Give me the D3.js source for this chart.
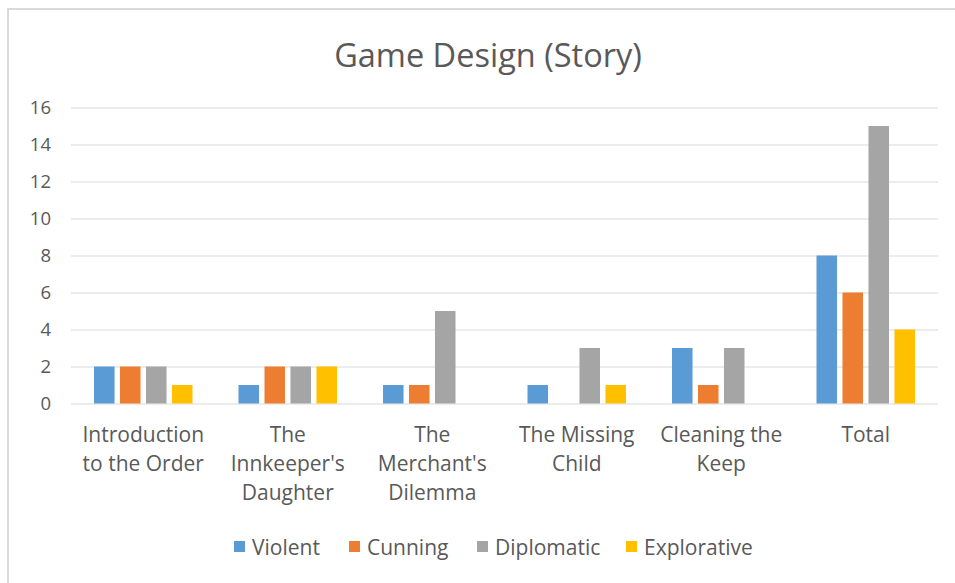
<!DOCTYPE html>
<html>
<head>
<meta charset="utf-8">
<script src="https://cdn.jsdelivr.net/npm/d3@7"></script>
<style>
    body { margin: 0; background: #ffffff; }
    text { font-family: "Open Sans", sans-serif; fill: #595959; }
</style>
</head>
<body>
<svg id="svgCanvas" width="955" height="583"></svg>
<script>
var categories = ["Introduction\nto the Order", "The\nInnkeeper's\nDaughter", "The\nMerchant's\nDilemma", "The Missing\nChild", "Cleaning the\nKeep", "Total"];
var seriesNames = ["Violent", "Cunning", "Diplomatic", "Explorative"];
var violent     = [2, 1, 1, 1, 3, 8];
var cunning     = [2, 2, 1, 0, 1, 6];
var diplomatic  = [2, 2, 5, 3, 3, 15];
var explorative = [1, 2, 0, 1, 0, 4];
var yTicks = [0, 2, 4, 6, 8, 10, 12, 14, 16];
var colors = ["#5b9bd5", "#ed7d31", "#a5a5a5", "#ffc000"];

var values = [violent, cunning, diplomatic, explorative];

var canvas = d3.select("#svgCanvas");

// chart border
canvas.append("rect")
        .attr("x", 8)
        .attr("y", 9)
        .attr("width", 1000)
        .attr("height", 1000)
        .attr("fill", "none")
        .attr("stroke", "#d9d9d9")
        .attr("stroke-width", 2);

var plotLeft = 71, plotRight = 938, plotTop = 107.5, plotBottom = 403.5;

var x = d3.scaleBand()
            .domain(categories)
            .range([plotLeft, plotRight]);

var x1 = d3.scaleBand()
            .domain(seriesNames)
            .range([-49.25, 49.25])
            .paddingInner(0.21);

var y = d3.scaleLinear()
            .domain([0, 16])
            .range([plotBottom, plotTop]);

// title
canvas.append("text")
        .attr("x", 488)
        .attr("y", 54)
        .attr("text-anchor", "middle")
        .attr("dominant-baseline", "central")
        .style("font-size", "32.5px")
        .text("Game Design (Story)");

// gridlines + y labels
var yAxis = d3.axisLeft(y).tickValues(yTicks).tickSize(-(plotRight - plotLeft)).tickPadding(20);
var gy = canvas.append("g")
        .attr("transform", "translate(" + plotLeft + ",0)")
        .call(yAxis);
gy.select(".domain").remove();
gy.selectAll(".tick line").attr("stroke", "#d9d9d9").attr("stroke-width", 1);
gy.selectAll(".tick text")
        .attr("fill", "#595959")
        .style("font-size", "18.5px")
        .style("font-family", "'Open Sans', sans-serif");

// bars
for (var i = 0; i < seriesNames.length; i++)
{
    for (var j = 0; j < categories.length; j++)
    {
        var v = values[i][j];
        if (v == 0) continue;
        canvas.append("rect")
                .attr("x", x(categories[j]) + x.bandwidth() / 2 + x1(seriesNames[i]))
                .attr("y", y(v))
                .attr("width", x1.bandwidth())
                .attr("height", y(0) - y(v))
                .attr("fill", colors[i])
                .attr("class", "bins");
    }
}

// category labels
for (var j = 0; j < categories.length; j++)
{
    var lines = categories[j].split("\n");
    var t = canvas.append("text")
            .attr("text-anchor", "middle")
            .style("font-size", "21px");
    for (var k = 0; k < lines.length; k++)
    {
        t.append("tspan")
            .attr("x", x(categories[j]) + x.bandwidth() / 2)
            .attr("y", 442 + k * 29)
            .text(lines[k]);
    }
}

// legend
var legendX = [234, 349, 477, 626];
for (var i = 0; i < seriesNames.length; i++)
{
    canvas.append("rect")
            .attr("x", legendX[i])
            .attr("y", 541)
            .attr("width", 11)
            .attr("height", 11)
            .attr("fill", colors[i]);
    canvas.append("text")
            .attr("x", legendX[i] + 18)
            .attr("y", 547)
            .attr("dominant-baseline", "central")
            .style("font-size", "21px")
            .text(seriesNames[i]);
}
</script>
</body>
</html>
